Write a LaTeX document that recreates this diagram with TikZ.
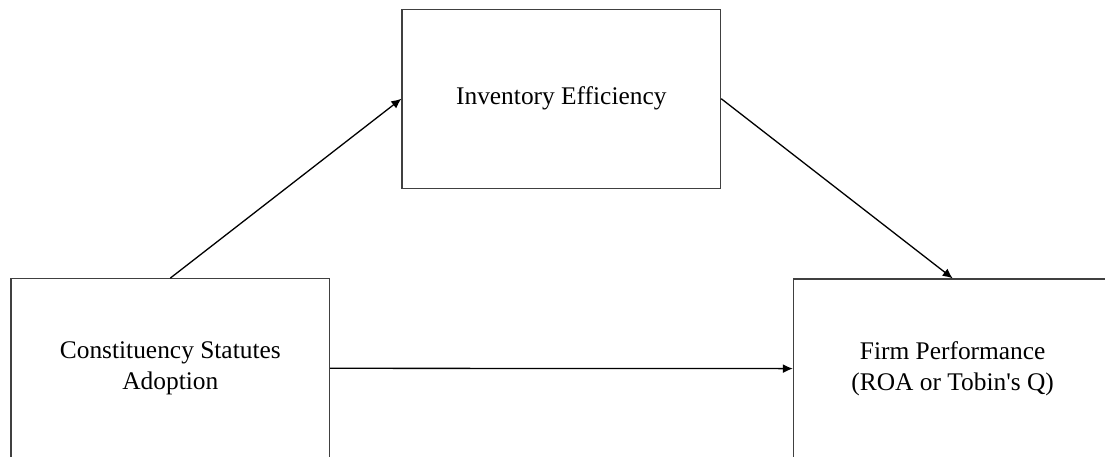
\documentclass[tikz,border=0pt]{standalone}
\usepackage{fontspec}
\setmainfont{Liberation Serif}
\usetikzlibrary{arrows.meta}
\begin{document}
\begin{tikzpicture}[x=1pt,y=-1pt,
  box/.style={draw=black!75,line width=1.1pt,rectangle,inner sep=0pt,
    minimum width=318.7pt,minimum height=179.3pt,align=center,
    font=\fontsize{25.4}{30.5}\selectfont},
  conn/.style={line width=1.3pt,-{Latex[length=10pt,width=9pt]}}]
\useasboundingbox (0,0) rectangle (1105,456);
\clip (0,0) rectangle (1105,456);
\node[box] (ie) at (561.3,98.7) {\raisebox{-2pt}{Inventory Efficiency}};
\node[box] (csa) at (170.3,368.3) {Constituency Statutes\\Adoption};
\node[box] (fp) at (952.7,368.6) {Firm Performance\\(ROA or Tobin\textquotesingle s Q)};
\draw[conn] (csa.north) -- (ie.west);
\draw[conn] (ie.east) -- (fp.north);
\draw[conn] (csa.east) -- (fp.west);
\end{tikzpicture}
\end{document}
